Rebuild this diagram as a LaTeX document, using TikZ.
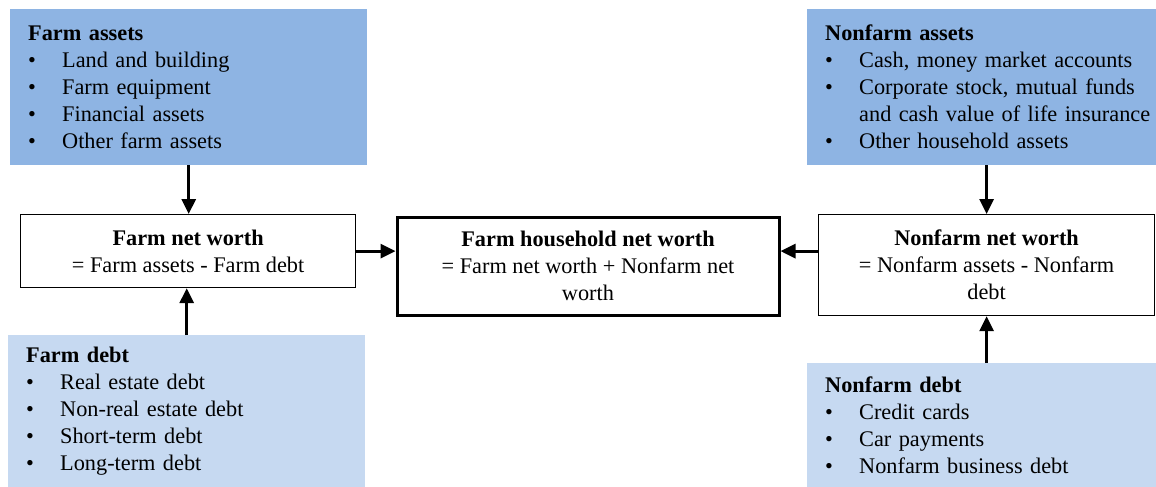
\documentclass[tikz,border=0pt]{standalone}
\usepackage{fontspec}
\setmainfont{Liberation Serif}
\usetikzlibrary{arrows.meta}
\definecolor{assetblue}{HTML}{8EB4E3}
\definecolor{debtblue}{HTML}{C6D9F1}
% bullet line inside a list box
\newcommand{\bitem}[1]{\\\makebox[34pt][l]{\textbullet}\mbox{#1}}
\tikzset{
    %Define standard arrow tip
    >={Triangle[length=15pt,width=14pt]},
    %Define style for the coloured list boxes
    listbox/.style={
           rectangle,
           anchor=north west,
           inner xsep=18pt,
           inner ysep=0pt,
           align=left,
           font=\fontsize{22.3}{27}\selectfont},
    assets/.style={listbox, fill=assetblue},
    debts/.style={listbox, fill=debtblue},
    %Define style for the net worth boxes
    worth/.style={
           rectangle,
           anchor=north west,
           draw=black, line width=1.2pt,
           inner sep=0pt,
           align=center,
           font=\fontsize{22.3}{27}\selectfont},
    total/.style={worth, line width=3pt},
    % Define arrow style
    flow/.style={
           ->,
           line width=3pt}
}

\begin{document}
\begin{tikzpicture}[x=1pt, y=-1pt]
    \useasboundingbox (0,0) rectangle (1156,487);
 %nodes
    \node[assets, text width=321pt, minimum height=156pt] (fa) at (10,9)
        {\textbf{Farm assets}\bitem{Land and building}\bitem{Farm equipment}\bitem{Financial assets}\bitem{Other farm assets}};
    \node[debts, text width=321pt, minimum height=152pt] (fd) at (8,335)
        {\textbf{Farm debt}\bitem{Real estate debt}\bitem{Non-real estate debt}\bitem{Short-term debt}\bitem{Long-term debt}};
    \node[assets, text width=313pt, minimum height=156pt] (nfa) at (807,9)
        {\textbf{Nonfarm assets}\bitem{Cash, money market accounts}\bitem{Corporate stock, mutual funds}\\\hspace*{34pt}\mbox{and cash value of life insurance}\bitem{Other household assets}};
    \node[debts, text width=313pt, minimum height=124pt] (nfd) at (807,363)
        {\textbf{Nonfarm debt}\bitem{Credit cards}\bitem{Car payments}\bitem{Nonfarm business debt}};
    \node[worth, minimum width=335pt, minimum height=73pt] (fnw) at (20,214)
        {\textbf{Farm net worth}\\= Farm assets - Farm debt};
    \node[total, minimum width=382pt, minimum height=98pt] (hh) at (395.5,215.5)
        {\textbf{Farm household net worth}\\= Farm net worth + Nonfarm net\\worth};
    \node[worth, minimum width=336pt, minimum height=101pt] (nfnw) at (818,214)
        {\textbf{Nonfarm net worth}\\= Nonfarm assets - Nonfarm\\debt};
 %edges
    \draw[flow] (fa.south) -- (fa.south |- fnw.north);
    \draw[flow] (fd.north) -- (fd.north |- fnw.south);
    \draw[flow] (fnw.east) -- (fnw.east -| hh.west);
    \draw[flow] (nfnw.west |- fnw.east) -- (hh.east |- fnw.east);
    \draw[flow] (nfa.south -| nfnw.north) -- (nfnw.north);
    \draw[flow] (nfd.north -| nfnw.south) -- (nfnw.south);
\end{tikzpicture}
\end{document}
